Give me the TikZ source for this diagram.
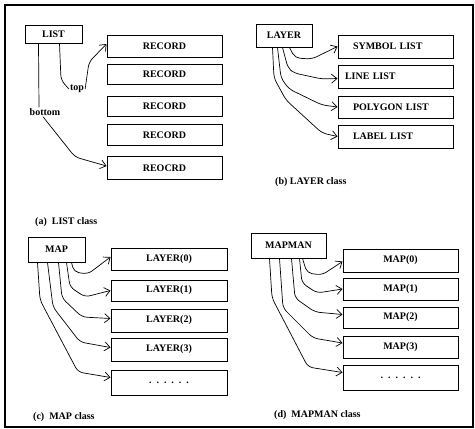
\documentclass[tikz,border=0pt]{standalone}
\usepackage{fontspec}
\setmainfont{Liberation Serif}
\usetikzlibrary{arrows.meta}
\begin{document}
\begin{tikzpicture}[x=1pt,y=-1pt,
  box/.style={draw, line width=1pt, inner sep=0pt, font=\fontsize{10}{12}\selectfont\bfseries},
  rbox/.style={box, minimum width=115pt},
  lbox/.style={box, text width=85pt, inner xsep=15pt, align=left, minimum height=23pt},
  lbl/.style={inner sep=1pt, font=\fontsize{10}{12}\selectfont\bfseries},
  captext/.style={anchor=west, inner sep=0pt, font=\fontsize{10}{12}\selectfont\bfseries},
  wire/.style={line width=0.7pt, rounded corners=5pt},
  arr/.style={wire, -{Straight Barb[length=5.5pt,width=9pt,line width=0.7pt]}},
]
\useasboundingbox (0,0) rectangle (475,429);
\draw[line width=1.1pt] (5,5) rectangle (473,427);

% ---------- (a) LIST class ----------
\node[box, minimum width=57pt, minimum height=18pt] (list) at (53.5,34) {LIST};
\node[rbox, minimum height=22pt] (r1) at (164.5,46) {RECORD};
\node[rbox, minimum height=20pt] (r2) at (164.5,74) {RECORD};
\node[rbox, minimum height=20pt] (r3) at (164.5,106) {RECORD};
\node[rbox, minimum height=21pt] (r4) at (164.5,135) {RECORD};
\node[rbox, minimum height=23pt] (r5) at (164.5,168) {REOCRD};
\node[lbl] (top) at (77,89) {top};
\node[lbl] (bottom) at (45,112) {bottom};
\draw[wire] ([xshift=35pt]list.south west) -- (61,80) -- (top.west);
\draw[arr] (top.east) -- (89,62) -- ([yshift=2pt]r1.west);
\draw[wire] ([xshift=14pt]list.south west) -- ([xshift=-6pt]bottom.north);
\draw[arr] ([xshift=-2pt]bottom.south) -- (75,157) -- ([yshift=2pt]r5.west);
\node[captext] (capa) at (35,222) {(a)\ \ LIST class};

% ---------- (b) LAYER class ----------
\node[box, minimum width=56pt, minimum height=23pt] (layer) at (284,35.5) {LAYER};
\node[lbox] (sym) at (395.5,46.5) {SYMBOL LIST};
\node[lbox] (line) at (395.5,76.5) {\hspace*{-8pt}LINE LIST};
\node[lbox, minimum height=22pt] (poly) at (395.5,107) {POLYGON LIST};
\node[lbox] (lab) at (395.5,136.5) {LABEL LIST};
\draw[arr] ([xshift=34pt]layer.south west) -- (295,58) -- (312,59) -- (sym.west);
\draw[arr] ([xshift=27pt]layer.south west) -- (288,68) -- (294,73) -- (322,79) -- ([yshift=-2pt]line.west);
\draw[arr] ([xshift=22pt]layer.south west) -- (281,78) -- (289,89) -- (322,105) -- (poly.west);
\draw[arr] ([xshift=17pt]layer.south west) -- (274,78) -- (286,100) -- (322,133) -- (lab.west);
\node[captext] (capb) at (275,182) {(b) LAYER class};

% ---------- (c) MAP class ----------
\node[box, minimum width=57pt, minimum height=25pt] (map) at (56.5,249.5) {MAP};
\node[rbox, minimum width=116pt, minimum height=22pt] (l0) at (169,259) {LAYER(0)};
\node[rbox, minimum width=116pt, minimum height=21pt] (l1) at (169,290.5) {LAYER(1)};
\node[rbox, minimum width=116pt, minimum height=23pt] (l2) at (169,320.5) {LAYER(2)};
\node[rbox, minimum width=116pt, minimum height=23pt] (l3) at (169,349.5) {LAYER(3)};
\node[rbox, minimum width=116pt, minimum height=25pt] (ld) at (169,382.5) {.\hspace{5pt}.\hspace{5pt}.\hspace{5pt}.\hspace{5pt}.\hspace{5pt}.};
\draw[arr] ([xshift=44pt]map.south west) -- (74,272) -- (88,274) -- ([yshift=2pt]l0.west);
\draw[arr] ([xshift=39pt]map.south west) -- (70,287) -- (85,297) -- (l1.west);
\draw[arr] ([xshift=31pt]map.south west) -- (62,298) -- (82,317) -- ([yshift=2pt]l2.west);
\draw[arr] ([xshift=20pt]map.south west) -- (53,307) -- (80,342) -- ([yshift=2pt]l3.west);
\draw[arr] ([xshift=10pt]map.south west) -- (40,300) -- (78,372) -- ([yshift=5pt]ld.west);
\node[captext] (capc) at (33,417) {(c)\ \ MAP class};

% ---------- (d) MAPMAN class ----------
\node[box, minimum width=75pt, minimum height=25pt] (mapman) at (288.5,245.5) {MAPMAN};
\node[rbox, minimum height=23pt] (m0) at (400.5,260.5) {MAP(0)};
\node[rbox, minimum height=22pt] (m1) at (400.5,289) {MAP(1)};
\node[rbox, minimum height=21pt] (m2) at (400.5,317.5) {MAP(2)};
\node[rbox, minimum height=22pt] (m3) at (400.5,347) {MAP(3)};
\node[rbox, minimum height=25pt] (md) at (400.5,377.5) {.\hspace{5pt}.\hspace{5pt}.\hspace{5pt}.\hspace{5pt}.\hspace{5pt}.};
\draw[arr] ([xshift=52pt]mapman.south west) -- (307,273) -- (322,275) -- ([yshift=-1pt]m0.west);
\draw[arr] ([xshift=49pt]mapman.south west) -- (302,283) -- (317,293) -- (m1.west);
\draw[arr] ([xshift=41pt]mapman.south west) -- (295,298) -- (315,312) -- ([yshift=3pt]m2.west);
\draw[arr] ([xshift=29pt]mapman.south west) -- (283,308) -- (313,338) -- ([yshift=4pt]m3.west);
\draw[arr] ([xshift=19pt]mapman.south west) -- (272,298) -- (308,367) -- ([yshift=5pt]md.west);
\node[captext] (capd) at (274,415) {(d)\ \ MAPMAN class};
\end{tikzpicture}
\end{document}
